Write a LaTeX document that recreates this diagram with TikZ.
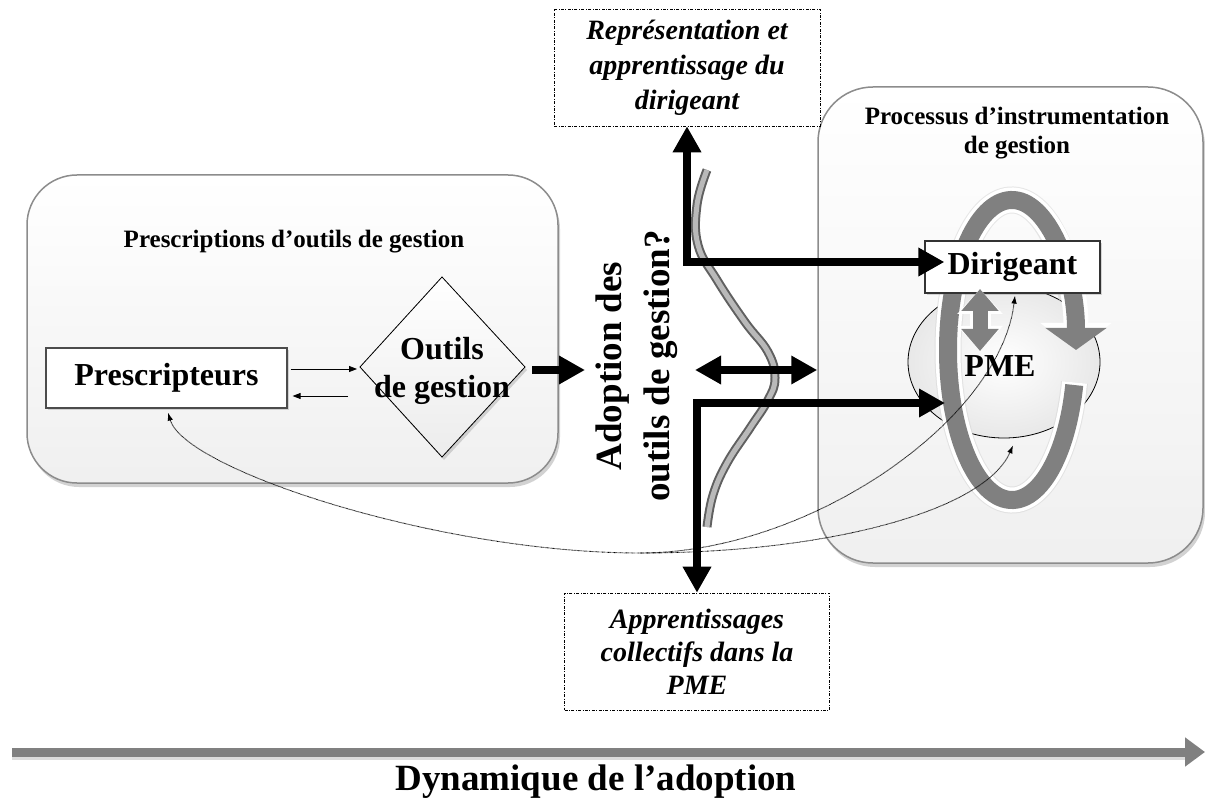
\documentclass[tikz,border=0pt]{standalone}
\usepackage{fontspec}
\setmainfont{Liberation Serif}
\usetikzlibrary{arrows.meta,shapes.geometric,shadows,calc}

\newcommand\myBig{\fontsize{32pt}{38pt}\selectfont\bfseries}
\newcommand\myTit{\fontsize{25pt}{29pt}\selectfont\bfseries}
\newcommand\myItA{\fontsize{28pt}{35pt}\selectfont\bfseries\itshape}
\newcommand\myItB{\fontsize{28pt}{33pt}\selectfont\bfseries\itshape}
\newcommand\myRot{\fontsize{37pt}{48pt}\selectfont\bfseries}
\newcommand\myDyn{\fontsize{37pt}{44pt}\selectfont\bfseries}

\begin{document}
\begin{tikzpicture}[x=1pt,y=1pt,
  panel/.style={draw=gray!90, line width=1.5pt, top color=white, bottom color=gray!12, inner sep=0pt,
     drop shadow={opacity=0.35, shadow xshift=2pt, shadow yshift=-4pt}},
  whitebox/.style={draw=gray!60!black, line width=1.2pt, fill=white, inner sep=0pt,
     drop shadow={opacity=0.3, shadow xshift=2pt, shadow yshift=-2pt}},
  notebox/.style={draw=black, line width=0.6pt, dash pattern=on 3pt off 1.5pt on 0.8pt off 1.5pt,
     fill=white, inner sep=0pt, align=center},
  thinarr/.style={line width=0.8pt, -{Triangle[length=8pt,width=6pt]}},
  bigarr/.style={line width=8pt, -{Triangle[length=26pt,width=27pt]}},
  bigdarr/.style={line width=8pt, {Triangle[length=26pt,width=27pt]}-{Triangle[length=26pt,width=27pt]}},
  dotarr/.style={line width=0.9pt, dash pattern=on 0.6pt off 0.6pt, black, -{Latex[length=8pt,width=5.5pt]}},
]
\useasboundingbox (0,0) rectangle (1205,-802);
\fill[white] (0,0) rectangle (1205,-802);

% panels
\node[panel, rounded corners=50pt, minimum width=531pt, minimum height=308pt] (lbox) at (292.5,-329) {};
\node[panel, rounded corners=55pt, minimum width=385pt, minimum height=476pt] (rbox) at (1010.5,-325) {};

% left content
\node[font=\myTit] (ltitle) at (294,-242) {Prescriptions d’outils de gestion};
\node[whitebox, minimum width=241pt, minimum height=60pt, font=\myBig] (prescr) at (166.5,-378) {Prescripteurs};

\coordinate (dl) at (360,-367);
\coordinate (dr) at (525,-367);
\coordinate (dt) at (442,-277);
\coordinate (db) at (442,-457);
\filldraw[draw=black, line width=0.8pt, top color=white, bottom color=gray!15,
  drop shadow={opacity=0.3, shadow xshift=2pt, shadow yshift=-3pt}] (dl) -- (dt) -- (dr) -- (db) -- cycle;
\node[font=\myBig, align=center] (outils) at (442,-371) {Outils\\de gestion};

\draw[thinarr] ([shift={(3pt,9pt)}]prescr.east) -- ([shift={(-3pt,-2pt)}]dl);
\draw[thinarr] ([shift={(-12pt,-29pt)}]dl) -- ([shift={(5pt,-18pt)}]prescr.east);

% note boxes
\node[notebox, minimum width=266pt, minimum height=117pt, font=\myItA] (rep) at (687,-67.5)
  {Représentation et\\apprentissage du\\dirigeant};
\node[notebox, minimum width=265pt, minimum height=117pt, font=\myItB] (app) at (697,-651.5)
  {Apprentissages\\collectifs dans la\\PME};

% rotated label
\node[font=\myRot, rotate=90, align=center] (rot) at (637,-366) {Adoption des\\outils de gestion?};

% right content
\node[font=\myTit, align=center] (rtitle) at (1017,-133) {Processus d’instrumentation\\de gestion};
\node[ellipse, draw=black, line width=0.8pt, inner color=white, outer color=gray!18,
  minimum width=192pt, minimum height=152pt] (pmeell) at (1004,-362) {};

\coordinate (rc) at (1012,-350);
\draw[gray!35, line width=27pt, opacity=0.5]
  ($(rc)+(-12.5:64pt and 150pt)$) arc[start angle=-12.5, end angle=-340, x radius=64pt, y radius=150pt];
\draw[white, line width=25pt, -{Triangle[length=27pt,width=70pt]}]
  ($(rc)+(-12.5:64pt and 150pt)$) arc[start angle=-12.5, end angle=-360, x radius=64pt, y radius=150pt];
\draw[gray, line width=18pt, -{Triangle[length=22pt,width=60pt]}]
  ($(rc)+(-13.5:64pt and 150pt)$) arc[start angle=-13.5, end angle=-360, x radius=64pt, y radius=150pt];

\node[whitebox, draw=gray!40!black, minimum width=175pt, minimum height=52pt, font=\myBig] (dir) at (1012.5,-267) {Dirigeant};

\coordinate (gtop) at (980,-289);
\coordinate (gbot) at (980,-351);
\draw[white, line width=21pt, {Triangle[length=25pt,width=44pt]}-{Triangle[length=25pt,width=44pt]}] (gtop) -- (gbot);
\draw[gray, line width=15pt, {Triangle[length=22pt,width=36pt]}-{Triangle[length=22pt,width=36pt]}] (gtop) -- (gbot);

\node[font=\myBig] (pme) at (1000,-366) {PME};

% S-curve
\draw[gray!75!black, line width=9pt] plot[smooth, tension=0.7] coordinates {(707,-170) (697,-205) (698,-245) (717,-280) (745,-322) (768,-352) (775,-378) (768,-400) (750,-428) (727,-463) (713,-495) (707,-527)};
\draw[gray!55, line width=5pt] plot[smooth, tension=0.7] coordinates {(707,-170) (697,-205) (698,-245) (717,-280) (745,-322) (768,-352) (775,-378) (768,-400) (750,-428) (727,-463) (713,-495) (707,-527)};

% thick black arrows
\coordinate (adin) at (585,-370);
\draw[bigarr] ([shift={(7pt,-3pt)}]dr) -- (adin);
\draw[bigdarr] (rep.south) |- ([shift={(20pt,5pt)}]dir.west);
\coordinate (ringL) at (945,-403);
\draw[bigdarr] (ringL) -| (app.north);
\coordinate (midL) at (695,-370);
\draw[bigdarr] (midL) -- (midL -| rbox.west);

% dotted curves
\coordinate (hub) at (640,-553);
\draw[dotarr] (hub) .. controls (440,-553) and (185,-470) .. ([shift={(1.5pt,-4pt)}]prescr.south);
\draw[dotarr] (hub) .. controls (810,-553) and (1000,-420) .. ([shift={(2.5pt,-2pt)}]dir.south);
\draw[dotarr] (hub) .. controls (830,-553) and (985,-510) .. ([shift={(9pt,-7pt)}]pmeell.south);

% timeline
\coordinate (t0) at (12,-752);
\coordinate (t1) at (1205,-752);
\draw[gray!45, line width=9pt, opacity=0.6] ([yshift=-3pt]t0) -- ([shift={(-20pt,-3pt)}]t1);
\draw[gray, line width=9pt, -{Triangle[length=20pt,width=28pt]}] (t0) -- (t1);
\node[font=\myDyn, anchor=base] (dyn) at (596,-790) {Dynamique de l’adoption};
\end{tikzpicture}
\end{document}
